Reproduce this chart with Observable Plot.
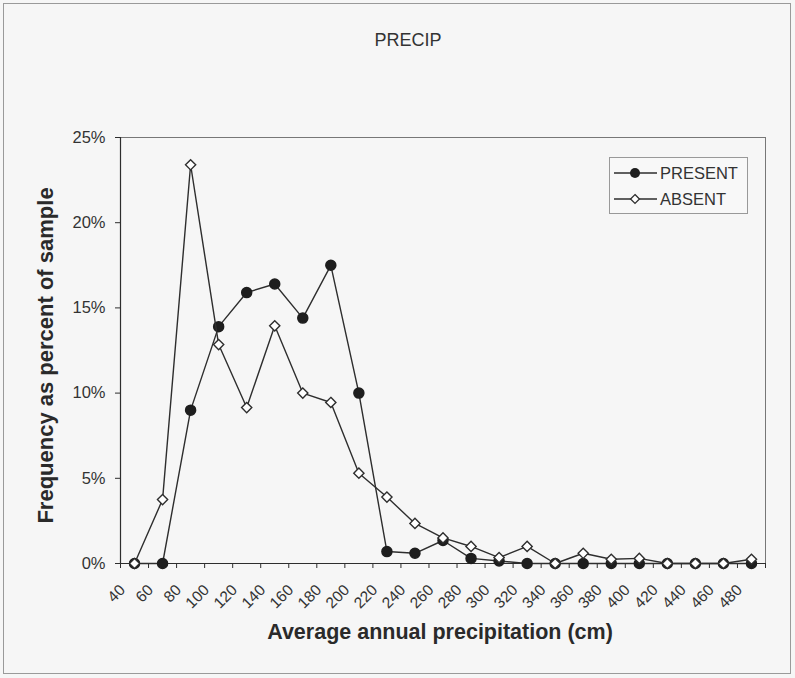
<!DOCTYPE html>
<html>
<head>
<meta charset="utf-8">
<script src="https://cdn.jsdelivr.net/npm/d3@7"></script>
<script src="https://cdn.jsdelivr.net/npm/@observablehq/plot@0.6"></script>
<style>
  html, body { margin: 0; padding: 0; background: #f6f6f6; }
  #chart svg { display: block; }
</style>
</head>
<body>
<div id="chart"></div>
<script>
// Category labels (average annual precipitation, cm)
const categories = [40, 60, 80, 100, 120, 140, 160, 180, 200, 220, 240, 260, 280, 300, 320, 340, 360, 380, 400, 420, 440, 460, 480];
// Frequency (% of sample) — PRESENT series
const present = [0, 0, 9.0, 13.9, 15.9, 16.4, 14.4, 17.5, 10.0, 0.7, 0.6, 1.35, 0.3, 0.15, 0, 0, 0, 0, 0, 0, 0, 0, 0];
// Frequency (% of sample) — ABSENT series
const absent = [0, 3.75, 23.4, 12.85, 9.15, 13.95, 10.0, 9.45, 5.3, 3.9, 2.35, 1.5, 1.0, 0.35, 1.0, 0, 0.6, 0.25, 0.3, 0, 0, 0, 0.25];
// Y tick values (%)
const yTicks = [0, 5, 10, 15, 20, 25];
const seriesNames = ["PRESENT", "ABSENT"];
const titleText = "PRECIP";
const xTitle = "Average annual precipitation (cm)";
const yTitle = "Frequency as percent of sample";

const rows = categories.map((c, i) => ({i, cat: c, present: present[i], absent: absent[i]}));
const idx = d3.range(categories.length);
const bounds = d3.range(categories.length + 1).map(i => i - 0.5);

const ink = "#2e2e2e";
const font = "'Liberation Sans', Arial, sans-serif";

const chart = Plot.plot({
  width: 795,
  height: 678,
  marginLeft: 120,
  marginRight: 30,
  marginTop: 137,
  marginBottom: 115,
  style: {background: "transparent", fontFamily: font, color: "#333"},
  x: {type: "linear", domain: [-0.5, categories.length - 0.5]},
  y: {domain: [0, 25]},
  marks: [
    Plot.frame({stroke: "#777", strokeWidth: 1}),
    Plot.axisY({ticks: yTicks, tickFormat: d => d + "%", tickSize: 5, tickPadding: 10, fontSize: 16.5, label: null, stroke: ink}),
    Plot.axisX({ticks: idx, tickFormat: i => categories[i], tickSize: 0, tickPadding: 24, tickRotate: -45, fontSize: 15.5, label: null, dx: -12}),
    Plot.axisX({ticks: bounds, tickFormat: () => "", tickSize: 5, label: null, stroke: ink}),
    Plot.ruleY([0], {stroke: ink, strokeWidth: 1.2}),
    Plot.ruleX([-0.5], {stroke: ink, strokeWidth: 1.2}),
    Plot.line(rows, {x: "i", y: "present", stroke: ink, strokeWidth: 1.4}),
    Plot.dot(rows, {x: "i", y: "present", r: 5, fill: "#1e1e1e", stroke: "#1e1e1e"}),
    Plot.line(rows, {x: "i", y: "absent", stroke: ink, strokeWidth: 1.4}),
    Plot.dot(rows, {x: "i", y: "absent", symbol: "diamond2", r: 4.6, fill: "white", stroke: ink, strokeWidth: 1.4}),
    Plot.text([titleText], {frameAnchor: "top", dx: -35, dy: -104, fontSize: 18, fill: "#333", fontWeight: 500, textAnchor: "middle"}),
    Plot.text([xTitle], {frameAnchor: "bottom", dx: -3, dy: 75, fontSize: 21.5, fontWeight: "bold", fill: "#2a2a2a", textAnchor: "middle"}),
    Plot.text([yTitle], {frameAnchor: "left", dx: -75, dy: 5, rotate: -90, fontSize: 22, fontWeight: "bold", fill: "#2a2a2a", textAnchor: "middle"})
  ]
});

const svg = d3.select(chart);
// outer chart border
svg.insert("rect", ":first-child")
  .attr("x", 3.5).attr("y", 3.5).attr("width", 787).attr("height", 670)
  .attr("fill", "#f6f6f6").attr("stroke", "#9a9a9a");

// legend
const lg = svg.append("g").attr("font-family", font).attr("font-size", 16.5).attr("fill", "#333")
  .attr("text-anchor", "start");
lg.append("rect").attr("x", 609.5).attr("y", 157.5).attr("width", 138).attr("height", 56)
  .attr("fill", "#f8f8f8").attr("stroke", "#999");
seriesNames.forEach((name, k) => {
  const y = 173 + k * 26;
  lg.append("line").attr("x1", 614).attr("x2", 657).attr("y1", y).attr("y2", y)
    .attr("stroke", ink).attr("stroke-width", 1.4);
  if (k === 0) {
    lg.append("circle").attr("cx", 635).attr("cy", y).attr("r", 5).attr("fill", "#1e1e1e");
  } else {
    lg.append("path").attr("transform", `translate(635,${y})`)
      .attr("d", d3.symbol(d3.symbolDiamond2, Math.PI * 4 * 4)())
      .attr("fill", "white").attr("stroke", ink).attr("stroke-width", 1.3);
  }
  lg.append("text").attr("x", 660).attr("y", y).attr("dy", "0.35em").text(name);
});

document.getElementById("chart").appendChild(chart);
</script>
</body>
</html>
